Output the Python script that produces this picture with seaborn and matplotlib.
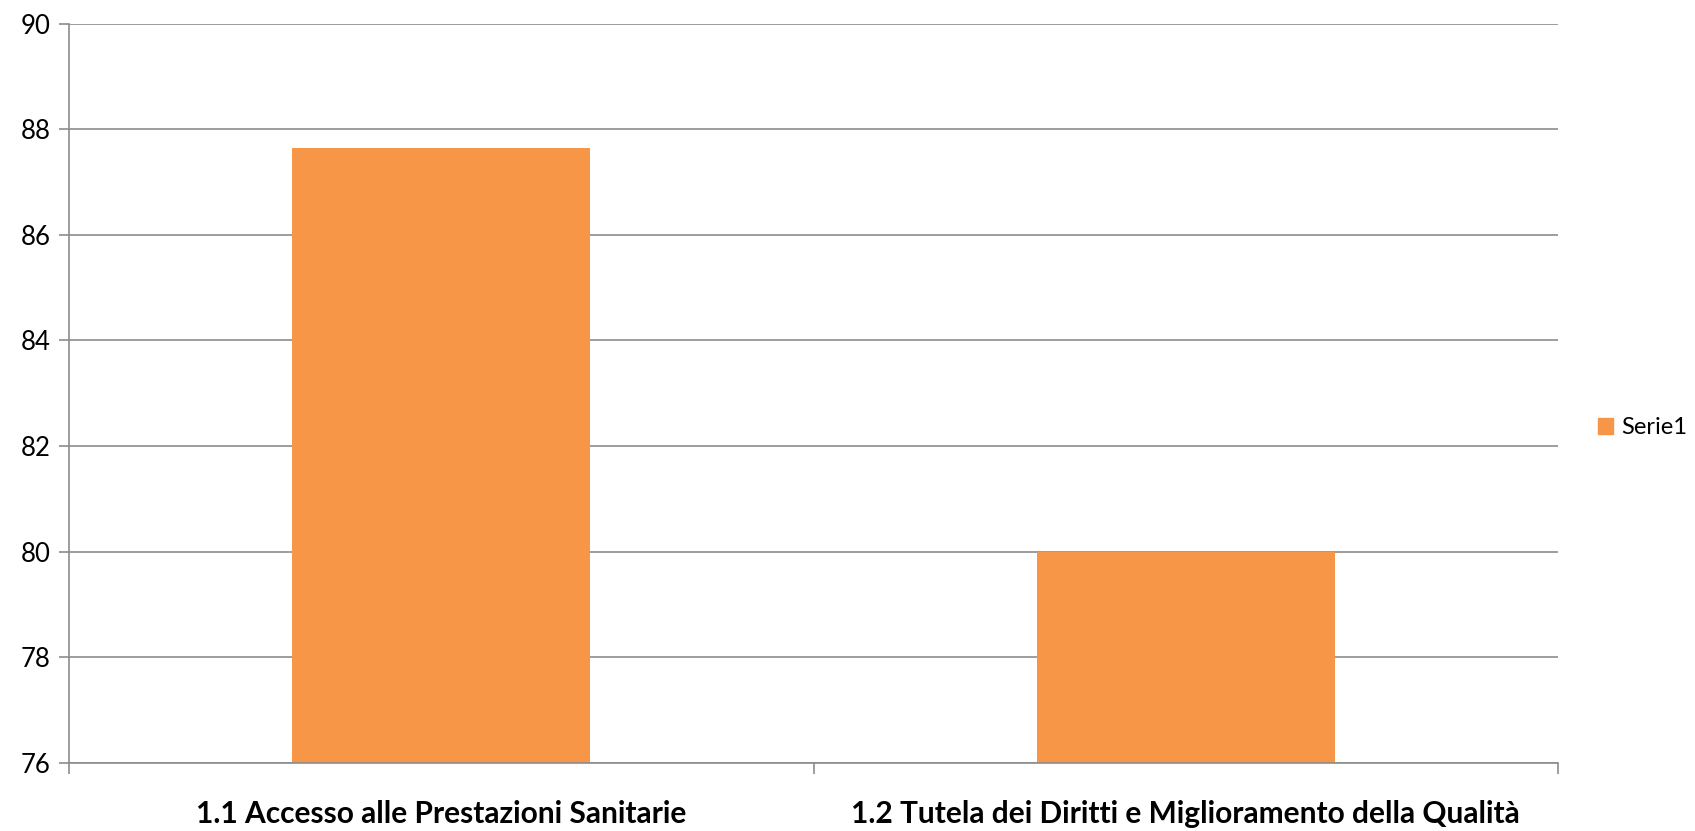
import pandas as pd
import matplotlib.pyplot as plt
import seaborn as sns
from matplotlib.ticker import FixedLocator

categories = ["1.1 Accesso alle Prestazioni Sanitarie",
              "1.2 Tutela dei Diritti e Miglioramento della Qualità"]
values = [87.65, 80.0]
series_name = "Serie1"
yticks = [76, 78, 80, 82, 84, 86, 88, 90]

df = pd.DataFrame({"categoria": categories, "valore": values, "serie": series_name})

sns.set_style("white")
plt.rcParams['font.family'] = ['Lato', 'DejaVu Sans']
plt.rcParams['text.color'] = 'black'
plt.rcParams['xtick.color'] = 'black'
plt.rcParams['ytick.color'] = 'black'

fig = plt.figure(figsize=(16.95, 8.31), dpi=100)
ax = fig.add_axes([0.0407, 0.082, 0.8785, 0.8895])

bar_c = "#F79646"
sns.barplot(data=df, x="categoria", y="valore", hue="serie",
            palette=[bar_c], width=0.4, dodge=False, saturation=1,
            linewidth=0, ax=ax, legend=False)

grid_c = "#8C8C8C"
ax.set_ylim(76, 90)
ax.set_xlim(-0.5, 1.5)
ax.set_yticks(yticks)
ax.yaxis.grid(True, color=grid_c, linewidth=1.2)
ax.set_axisbelow(True)
for s in ["top", "right"]:
    ax.spines[s].set_visible(False)
for s in ["left", "bottom"]:
    ax.spines[s].set_color(grid_c)
    ax.spines[s].set_linewidth(1.2)

ax.tick_params(axis="y", left=True, length=7, color=grid_c, labelcolor="black",
               width=1.2, labelsize=18.5, pad=6)
ax.tick_params(axis="x", which="major", length=0, labelsize=21.5, pad=27, labelcolor="black")
ax.xaxis.set_minor_locator(FixedLocator([-0.5, 0.5, 1.5]))
ax.tick_params(axis="x", which="minor", bottom=True, length=8, color=grid_c, width=1.2)
for lab in ax.get_xticklabels():
    lab.set_fontweight("bold")
ax.set_xlabel("")
ax.set_ylabel("")

handle = plt.Rectangle((0, 0), 1, 1, color=bar_c)
fig.legend([handle], [series_name], loc="center left", bbox_to_anchor=(0.937, 0.485),
           frameon=False, fontsize=17, handlelength=0.65, handleheight=0.65,
           handletextpad=0.35, borderaxespad=0)

fig.savefig("out.png", dpi=100)
